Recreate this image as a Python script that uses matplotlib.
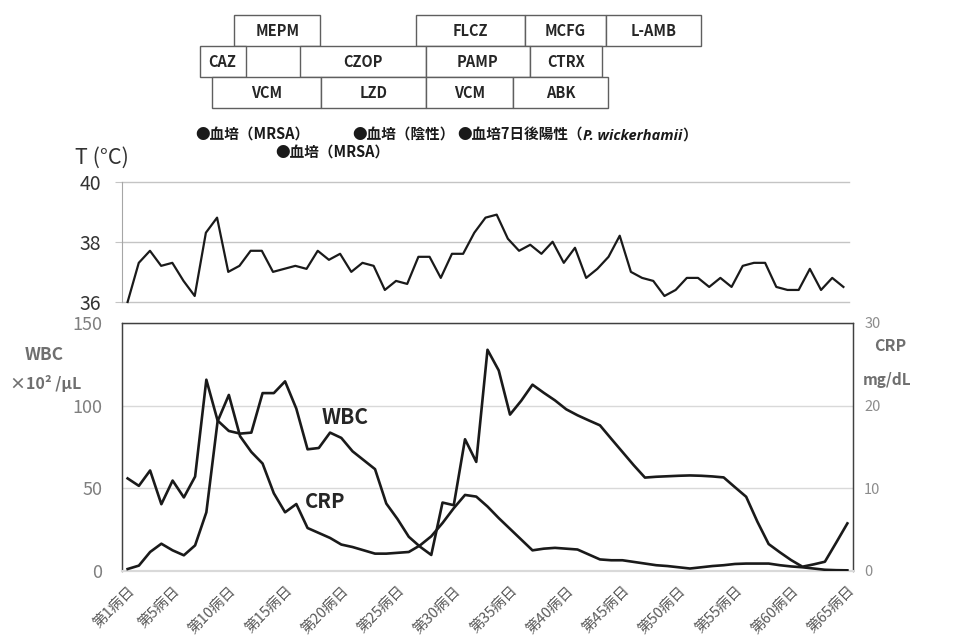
import matplotlib.pyplot as plt
from matplotlib.patches import Rectangle

plt.rcParams['font.family'] = ['Noto Sans CJK JP', 'DejaVu Sans']

days = list(range(1, 66))
temp = [36.0, 37.3, 37.7, 37.2, 37.3, 36.7, 36.2, 38.3, 38.8, 37.0,
        37.2, 37.7, 37.7, 37.0, 37.1, 37.2, 37.1, 37.7, 37.4, 37.6,
        37.0, 37.3, 37.2, 36.4, 36.7, 36.6, 37.5, 37.5, 36.8, 37.6,
        37.6, 38.3, 38.8, 38.9, 38.1, 37.7, 37.9, 37.6, 38.0, 37.3,
        37.8, 36.8, 37.1, 37.5, 38.2, 37.0, 36.8, 36.7, 36.2, 36.4,
        36.8, 36.8, 36.5, 36.8, 36.5, 37.2, 37.3, 37.3, 36.5, 36.4,
        36.4, 37.1, 36.4, 36.8, 36.5]
wbc = [56, 51.5, 60.8, 40.4, 54.7, 44.5, 57.1, 115.7, 91, 84.7,
       83.1, 83.7, 107.6, 107.6, 114.7, 98.2, 73.6, 74.4, 83.7, 80.5,
       72.4, 67, 61.6, 40.8, 31.4, 20.7, 14.7, 9.7, 41.4, 39.8,
       79.7, 66, 133.8, 121.3, 94.6, 103, 112.7, 107.8, 103.2, 97.8,
       94.2, 91.1, 88.1, 80, 72, 64, 56.5, 57, 57.3, 57.6,
       57.8, 57.6, 57.2, 56.6, 50.7, 44.9, 29.8, 16.3, 11.3, 6.6,
       2.6, 4.0, 5.6, 17.1, 28.8]
crp = [0.24, 0.65, 2.3, 3.3, 2.5, 1.9, 3.1, 7.1, 18.1, 21.3,
       16.3, 14.4, 13.0, 9.4, 7.1, 8.1, 5.2, 4.6, 4.0, 3.2,
       2.9, 2.5, 2.1, 2.1, 2.2, 2.3, 3.1, 4.2, 5.8, 7.6,
       9.2, 9.0, 7.8, 6.4, 5.1, 3.8, 2.5, 2.7, 2.8, 2.7,
       2.6, 2.0, 1.4, 1.3, 1.3, 1.1, 0.9, 0.7, 0.6, 0.45,
       0.3, 0.45, 0.6, 0.7, 0.85, 0.9, 0.9, 0.9, 0.7, 0.55,
       0.45, 0.3, 0.15, 0.1, 0.08]
tick_days = [1, 5, 10, 15, 20, 25, 30, 35, 40, 45, 50, 55, 60, 65]
tick_labels = [f'第{d}病日' for d in tick_days]

# antibiotics / antifungals: name, row, start day, end day
drug_names = ['MEPM', 'FLCZ', 'MCFG', 'L-AMB', 'CAZ', 'CZOP', 'PAMP', 'CTRX',
              'VCM', 'LZD', 'VCM', 'ABK']
drug_rows = [0, 0, 0, 0, 1, 1, 1, 1, 2, 2, 2, 2]
drug_start = [10.5, 26.6, 36.3, 43.5, 7.4, 16.3, 27.5, 36.8, 8.5, 18.2, 27.5, 35.3]
drug_end = [18.1, 36.3, 43.5, 52.0, 11.5, 27.5, 36.8, 43.2, 18.2, 27.5, 35.3, 43.7]

# blood cultures
culture_labels = ['血培（MRSA）', '血培（MRSA）', '血培（陰性）', '血培7日後陽性（']
culture_days = [7.0, 14.1, 21.0, 30.3]
culture_rows = [0, 1, 0, 0]

W, H = 956, 641
fig = plt.figure(figsize=(W / 100, H / 100), dpi=100)


def px_axes(left, top, right, bottom):
    return fig.add_axes([left / W, 1 - bottom / H, (right - left) / W, (bottom - top) / H])


# --- top: drug boxes and culture notes
ax_top = px_axes(122, 10, 853, 165)
ax_top.set_xlim(0.5, 65.5)
ax_top.set_ylim(5, 0)
ax_top.axis('off')
for name, r, s, e in zip(drug_names, drug_rows, drug_start, drug_end):
    ax_top.add_patch(Rectangle((s, 0.16 + r), e - s, 1.0, facecolor='white',
                               edgecolor='#5f5f5f', linewidth=1.0))
    ax_top.text((s + e) / 2, 0.68 + r, name, ha='center', va='center',
                fontsize=10.5, fontweight='bold', color='#262626')

last = None
for lab, d, r in zip(culture_labels, culture_days, culture_rows):
    last = ax_top.text(d, 4.03 + r * 0.58, '●' + lab, ha='left', va='center',
                       fontsize=10.5, fontweight='bold', color='#1a1a1a')
t2 = ax_top.annotate('P. wickerhamii', xy=(1, 0), xycoords=last, va='bottom', ha='left',
                     fontsize=10.5, fontweight='bold', style='italic', color='#1a1a1a',
                     family=['Open Sans', 'DejaVu Sans'])
ax_top.annotate('）', xy=(1, 0), xycoords=t2, va='bottom', ha='left',
                fontsize=10.5, fontweight='bold', color='#1a1a1a')

# --- temperature
ax_t = px_axes(122, 181.5, 849, 302)
ax_t.plot(days, temp, color='#1a1a1a', linewidth=1.6, clip_on=False, zorder=3)
ax_t.set_xlim(0.5, 65.5)
ax_t.set_ylim(36, 40)
ax_t.set_yticks([36, 38, 40])
ax_t.set_xticks([])
ax_t.grid(axis='y', color='#c4c4c4', linewidth=1.0)
for gl in ax_t.get_ygridlines():
    gl.set_clip_on(False)
for sp in ['top', 'right', 'bottom']:
    ax_t.spines[sp].set_visible(False)
ax_t.spines['left'].set_color('#a6a6a6')
ax_t.tick_params(axis='y', length=5, color='#c4c4c4', labelsize=14,
                 labelcolor='#333333', pad=10)
fig.text(75 / W, 1 - 158 / H, 'T (°C)', fontsize=15.5, color='#333333', va='center')

# --- WBC / CRP
ax = px_axes(122, 323, 853, 571)
ax2 = ax.twinx()
ax.plot(days, wbc, color='#1a1a1a', linewidth=1.9, zorder=3)
ax2.plot(days, crp, color='#1a1a1a', linewidth=1.9, zorder=3)
ax.set_xlim(0.5, 65.5)
ax.set_ylim(0, 150)
ax2.set_ylim(0, 30)
ax.set_yticks([0, 50, 100, 150])
ax2.set_yticks([0, 10, 20, 30])
ax.grid(axis='y', color='#d9d9d9', linewidth=1.0)
ax.set_axisbelow(True)
ax.set_xticks(tick_days)
ax.set_xticklabels(tick_labels, rotation=45, ha='right', rotation_mode='anchor',
                   fontsize=10.5, color='#595959')
ax.tick_params(axis='x', length=0, pad=9)
ax.tick_params(axis='y', length=0, labelsize=13, labelcolor='#7f7f7f', pad=14)
ax2.tick_params(axis='y', length=0, labelsize=10.5, labelcolor='#8c8c8c', pad=8)
for a in (ax, ax2):
    for sp in ['top', 'left', 'right']:
        a.spines[sp].set_color('#404040')
        a.spines[sp].set_linewidth(0.9)
    a.spines['bottom'].set_color('#d9d9d9')
    a.spines['bottom'].set_linewidth(1.5)

ax.text(20.3, 93, 'WBC', ha='center', va='center', fontsize=15,
        fontweight='bold', color='#262626')
ax.text(18.6, 42, 'CRP', ha='center', va='center', fontsize=14.5,
        fontweight='bold', color='#262626')

fig.text(44 / W, 1 - 355 / H, 'WBC', ha='center', va='center', fontsize=12.5,
         fontweight='bold', color='#6f6f6f')
fig.text(46 / W, 1 - 383 / H, '×10² /μL', ha='center', va='center', fontsize=11.5,
         fontweight='bold', color='#6f6f6f')
fig.text(890 / W, 1 - 346 / H, 'CRP', ha='center', va='center', fontsize=11.5,
         fontweight='bold', color='#6f6f6f')
fig.text(887 / W, 1 - 380 / H, 'mg/dL', ha='center', va='center', fontsize=11,
         fontweight='bold', color='#6f6f6f')

fig.savefig('out.png', dpi=100, facecolor='white')
